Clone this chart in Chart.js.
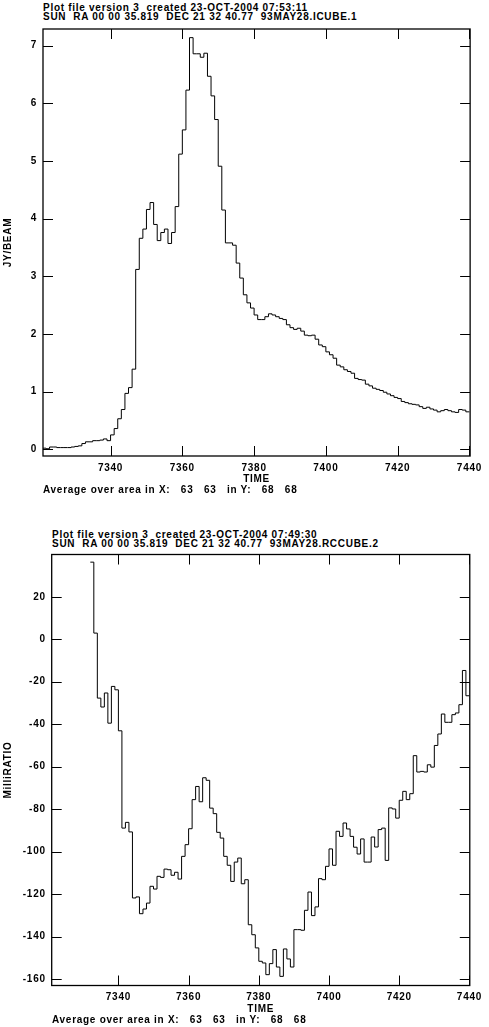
<!DOCTYPE html>
<html>
<head>
<meta charset="utf-8">
<script src="https://cdn.jsdelivr.net/npm/chart.js@4/dist/chart.umd.min.js"></script>
<style>
  html, body { margin: 0; padding: 0; background: #fff; }
  #page { position: relative; width: 489px; height: 1027px; overflow: hidden; }
  canvas { position: absolute; left: 0; }
  .txt { position: absolute; font: bold 10px "Liberation Sans", Arial, sans-serif; letter-spacing: 0.72px;
         line-height: 9px; white-space: pre; color: #000; }
</style>
</head>
<body>
<div id="page">
  <div class="txt" style="left:43px;top:3px">Plot file version 3  created 23-OCT-2004 07:53:11
SUN  RA 00 00 35.819  DEC 21 32 40.77  93MAY28.ICUBE.1</div>
  <canvas id="icube" width="489" height="500" style="top:0"></canvas>
  <div class="txt" style="left:43px;top:485px">Average over area in X:   63   63   in Y:   68   68</div>

  <div class="txt" style="left:52px;top:530px">Plot file version 3  created 23-OCT-2004 07:49:30
SUN  RA 00 00 35.819  DEC 21 32 40.77  93MAY28.RCCUBE.2</div>
  <canvas id="rccube" width="489" height="517" style="top:510px"></canvas>
  <div class="txt" style="left:52px;top:1015px">Average over area in X:   63   63   in Y:   68   68</div>
</div>
<script>
// ICUBE.1 : Stokes I, one sample per time unit starting at icubeStart
const icubeStart = 7321;
const icubeJy = [
  0.02, 0.01, 0.04, 0.04, 0.03, 0.03, 0.03, 0.03, 0.04, 0.05,
  0.06, 0.10, 0.13, 0.13, 0.15, 0.15, 0.16, 0.18, 0.15,
  0.25, 0.36, 0.53, 0.69, 0.97, 1.07, 1.39, 3.12, 3.66, 3.82,
  4.16, 4.28, 3.90, 3.62, 3.76, 3.82, 3.57, 3.76, 4.21, 5.12,
  5.54, 6.23, 7.14, 6.86, 6.86, 6.80, 6.87, 6.47, 6.13, 5.72,
  4.91, 4.15, 3.58, 3.58, 3.54, 3.23, 2.97, 2.68, 2.54, 2.45,
  2.33, 2.25, 2.25, 2.30, 2.35, 2.33, 2.30, 2.27, 2.25, 2.16,
  2.11, 2.08, 2.10, 2.05, 1.98, 1.97, 1.98, 1.91, 1.81, 1.78,
  1.69, 1.64, 1.58, 1.46, 1.43, 1.38, 1.35, 1.32, 1.23, 1.21,
  1.20, 1.13, 1.10, 1.06, 1.04, 1.02, 0.99, 0.96, 0.93, 0.90,
  0.88, 0.83, 0.81, 0.79, 0.78, 0.77, 0.74, 0.71, 0.73, 0.70,
  0.68, 0.65, 0.67, 0.69, 0.67, 0.65, 0.64, 0.69, 0.68, 0.65
];

// RCCUBE.2 : circular polarisation ratio, blanked before rccubeStart
const rccubeStart = 7332;
const rccubeMilli = [
  36.3, 2.9, -27.7, -31.9, -25.3, -39.5, -22.2, -23.8,
  -43.1, -88.9, -86.2, -90.7, -121.8, -121.3, -129.2, -127.0, -124.2, -116.3,
  -117.6, -111.6, -112.1, -108.2, -108.5, -111.1, -109.7, -112.9, -102.2, -96.7,
  -89.2, -75.5, -69.3, -76.5, -65.2, -66.4, -79.5, -82.1, -90.9, -93.6,
  -102.2, -106.4, -114.0, -104.9, -103.0, -115.1, -113.2, -134.4, -139.1, -145.3,
  -151.6, -152.4, -157.9, -152.7, -146.1, -154.3, -158.7, -145.8, -150.5, -154.3,
  -136.7, -136.7, -137.0, -127.6, -119.0, -130.1, -126.0, -112.7, -113.2, -106.9,
  -98.7, -106.4, -90.4, -92.8, -86.5, -89.3, -92.8, -97.9, -101.1, -94.0,
  -104.9, -104.9, -93.1, -97.8, -89.6, -88.9, -104.1, -79.4, -79.9, -84.2,
  -75.8, -71.6, -75.5, -72.7, -54.8, -62.5, -62.2, -62.5, -59.1, -60.2,
  -50.0, -44.6, -35.2, -39.1, -39.1, -35.5, -34.7, -30.8, -14.7, -26.6
];

const timeTicks = 20;
const FONT = { family: '"Liberation Sans", Arial, Helvetica, sans-serif', size: 10, weight: 'bold', lineHeight: 1 };
const LETTER_SPACING = '0.72px';

// histogram steps: each sample spans [t, t+1], so close the last bin with an extra point
function toSteps(start, values) {
  const pts = values.map((v, i) => ({ x: start + i, y: v }));
  pts.push({ x: start + values.length, y: values[values.length - 1] });
  return pts;
}

// the plot lettering is wide, so widen the canvas text a little
const wideText = {
  id: 'wideText',
  beforeLayout(chart) { chart.ctx.letterSpacing = LETTER_SPACING; },
  beforeDraw(chart) { chart.ctx.letterSpacing = LETTER_SPACING; },
};

// plot frame with inward tick marks on all four sides
const frameTicks = {
  id: 'frameTicks',
  afterDatasetsDraw(chart) {
    const { ctx, chartArea: a, scales: { x, y } } = chart;
    const len = 10;
    ctx.save();
    ctx.strokeStyle = '#000';
    ctx.lineWidth = 1;
    ctx.beginPath();
    x.ticks.forEach(t => {
      const px = Math.round(x.getPixelForValue(t.value)) + 0.5;
      ctx.moveTo(px, a.bottom); ctx.lineTo(px, a.bottom - len);
      ctx.moveTo(px, a.top); ctx.lineTo(px, a.top + len);
    });
    y.ticks.forEach(t => {
      const py = Math.round(y.getPixelForValue(t.value)) + 0.5;
      ctx.moveTo(a.left, py); ctx.lineTo(a.left + len, py);
      ctx.moveTo(a.right, py); ctx.lineTo(a.right - len, py);
    });
    ctx.stroke();
    ctx.lineWidth = 1.3;
    ctx.strokeRect(a.left, a.top, a.right - a.left, a.bottom - a.top);
    ctx.restore();
  }
};

function makePlot(id, o) {
  return new Chart(document.getElementById(id), {
    type: 'line',
    data: {
      datasets: [{
        data: toSteps(o.start, o.values),
        stepped: 'before',
        borderColor: '#000',
        borderWidth: 1,
        pointRadius: 0,
        fill: false,
      }],
    },
    options: {
      responsive: false,
      animation: false,
      events: [],
      layout: { padding: { top: o.top, right: o.right, left: 0, bottom: 0 } },
      plugins: { legend: { display: false }, tooltip: { enabled: false } },
      scales: {
        x: {
          type: 'linear', min: o.xMin, max: o.xMax,
          grid: { display: false, drawTicks: false }, border: { display: false },
          ticks: { stepSize: timeTicks, includeBounds: false, padding: 7, color: '#000', font: FONT,
                   maxRotation: 0, autoSkip: false, callback: v => String(v) },
          title: { display: true, text: 'TIME', color: '#000', font: FONT, padding: { top: 0, bottom: o.titleGap } },
          afterFit: s => { s.height = o.xAxisH; },
        },
        y: {
          min: o.yMin, max: o.yMax,
          grid: { display: false, drawTicks: false }, border: { display: false },
          ticks: { stepSize: o.yStep, includeBounds: false, padding: 6, color: '#000', font: FONT,
                   autoSkip: false, callback: v => String(v) },
          title: { display: true, text: o.yLabel, color: '#000', font: FONT, padding: { top: 3, bottom: 0 } },
          afterFit: s => { s.width = o.yAxisW; },
        },
      },
    },
    plugins: [wideText, frameTicks],
  });
}

makePlot('icube', {
  start: icubeStart, values: icubeJy, yLabel: 'JY/BEAM',
  xMin: 7321.17, xMax: 7440.2, yMin: -0.116, yMax: 7.29, yStep: 1,
  top: 29, right: 18, yAxisW: 43, xAxisH: 44, titleGap: 16,
});

makePlot('rccube', {
  start: rccubeStart, values: rccubeMilli, yLabel: 'MilliRATIO',
  xMin: 7321.0, xMax: 7440.1, yMin: -163, yMax: 39.9, yStep: 20,
  top: 44.5, right: 7, yAxisW: 51.7, xAxisH: 41.5, titleGap: 13,
});
</script>
</body>
</html>
